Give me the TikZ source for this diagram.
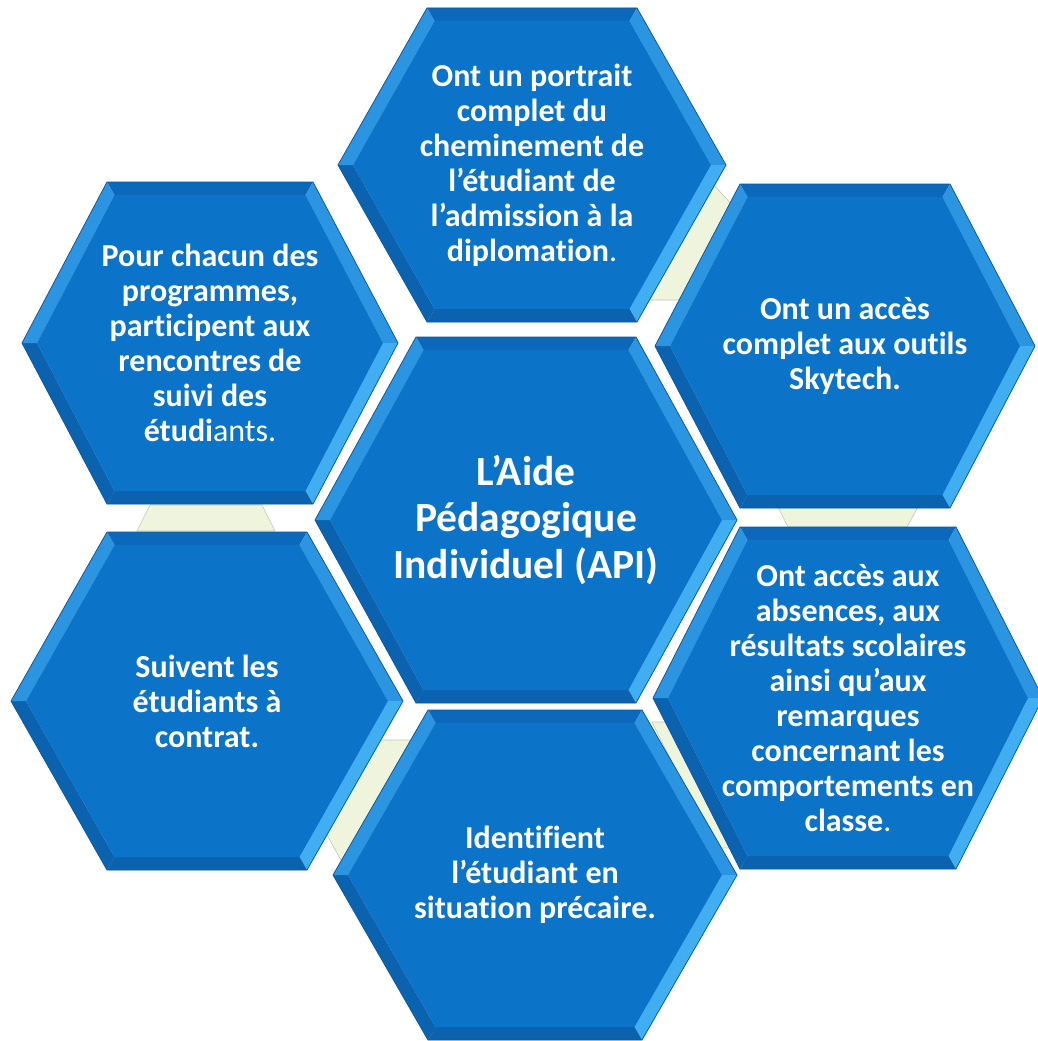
\documentclass[tikz,border=0pt]{standalone}
\usepackage{fontspec}
\setmainfont{Carlito}[Ligatures = NoCommon]

\definecolor{hexface}{HTML}{0B74C8}
\definecolor{hextop}{HTML}{0B68BA}
\definecolor{hexlit}{HTML}{2C95E2}
\definecolor{hexlitter}{HTML}{42AEF2}
\definecolor{hexdark}{HTML}{0B62AE}
\definecolor{hexline}{HTML}{0A5CA6}
\definecolor{fond}{HTML}{EEF5DC}

\tikzset{
  hextext/.style = {text = white, align = center,
                    font = \bfseries\fontsize{32}{35}\selectfont},
  bigtext/.style = {hextext, font = \bfseries\fontsize{41.5}{46.5}\selectfont},
  filler/.style  = {fill = fond, draw = fond!60!gray, line width = 0.6pt},
}

% #1 name, #2 #3 centre, #4 half width, #5 half height,
% #6 half top edge, #7 text style, #8 text
\newcommand{\hexcell}[8]{%
  \begin{scope}[shift = {(#2, #3)}]
    \coordinate (T1) at ({-#6}, {-#5});
    \coordinate (T2) at ({#6}, {-#5});
    \coordinate (R)  at ({#4}, 0);
    \coordinate (B2) at ({#6}, {#5});
    \coordinate (B1) at ({-#6}, {#5});
    \coordinate (L)  at ({-#4}, 0);
    \coordinate (t1) at ({-#6 + 7.5}, {-#5 + 13});
    \coordinate (t2) at ({#6 - 7.5}, {-#5 + 13});
    \coordinate (r)  at ({#4 - 15}, 0);
    \coordinate (b2) at ({#6 - 7.5}, {#5 - 13});
    \coordinate (b1) at ({-#6 + 7.5}, {#5 - 13});
    \coordinate (l)  at ({-#4 + 15}, 0);
    % shadow
    \fill[black, opacity = 0.14, shift = {(5, 6)}]
      (T1) -- (T2) -- (R) -- (B2) -- (B1) -- (L) -- cycle;
    % bevel
    \fill[hextop]    (T1) -- (T2) -- (t2) -- (t1) -- cycle;
    \fill[hexlit]    (T2) -- (R)  -- (r)  -- (t2) -- cycle;
    \fill[hexlitter] (R)  -- (B2) -- (b2) -- (r)  -- cycle;
    \fill[hexdark]   (B2) -- (B1) -- (b1) -- (b2) -- cycle;
    \fill[hexdark]   (B1) -- (L)  -- (l)  -- (b1) -- cycle;
    \fill[hexlit]    (L)  -- (T1) -- (t1) -- (l)  -- cycle;
    \draw[hexline, line width = 0.8pt]
      (T1) -- (T2) -- (R) -- (B2) -- (B1) -- (L) -- cycle;
    \fill[hexface] (t1) -- (t2) -- (r) -- (b2) -- (b1) -- (l) -- cycle;
    \node[#7] (#1) at (0, 0) {#8};
  \end{scope}%
}

\begin{document}
\begin{tikzpicture}[x = 1pt, y = -1pt]
  \useasboundingbox[fill = white] (0, 0) rectangle (1037, 1041);

  % pale pieces seen between the cells
  \fill[filler] (712, 183) -- (735, 208) -- (683, 300) -- (645, 300) -- cycle;
  \fill[filler] (150, 505) -- (262, 505) -- (275, 531) -- (137, 531) -- cycle;
  \fill[filler] (778, 507) -- (918, 507) -- (907, 527) -- (788, 527) -- cycle;
  \fill[filler] (376, 740) -- (414, 740) -- (342, 862) -- (326, 833) -- cycle;
  \fill[filler] (652, 722) -- (672, 722) -- (744, 848) -- (715, 848) -- cycle;

  \hexcell{portrait}{532}{165}{194}{157}{105}{hextext}
    {Ont un portrait\\complet du\\cheminement de\\l’étudiant de\\
     l’admission à la\\diplomation{\mdseries .}}
  \hexcell{suivi}{210}{343}{188}{161}{103}{hextext}
    {Pour chacun des\\programmes,\\participent aux\\rencontres de\\
     suivi des\\étudi{\mdseries ants.}}
  \hexcell{outils}{845}{346}{190}{162}{105}{hextext}
    {Ont un accès\\complet aux outils\\Skytech.}
  \hexcell{contrat}{207}{701}{196}{169}{100}{hextext}
    {Suivent les\\étudiants à\\contrat.}
  \hexcell{absences}{848}{698}{195}{171}{108}{hextext}
    {Ont accès aux\\absences, aux\\résultats scolaires\\ainsi qu’aux\\
     remarques\\concernant les\\comportements en\\classe{\mdseries .}}
  \hexcell{precaire}{535}{875}{202}{165}{107}{hextext}
    {Identifient\\l’étudiant en\\situation précaire.}
  \hexcell{api}{526}{520}{211}{183}{110}{bigtext}
    {L’Aide\\Pédagogique\\Individuel (API)}
\end{tikzpicture}
\end{document}
